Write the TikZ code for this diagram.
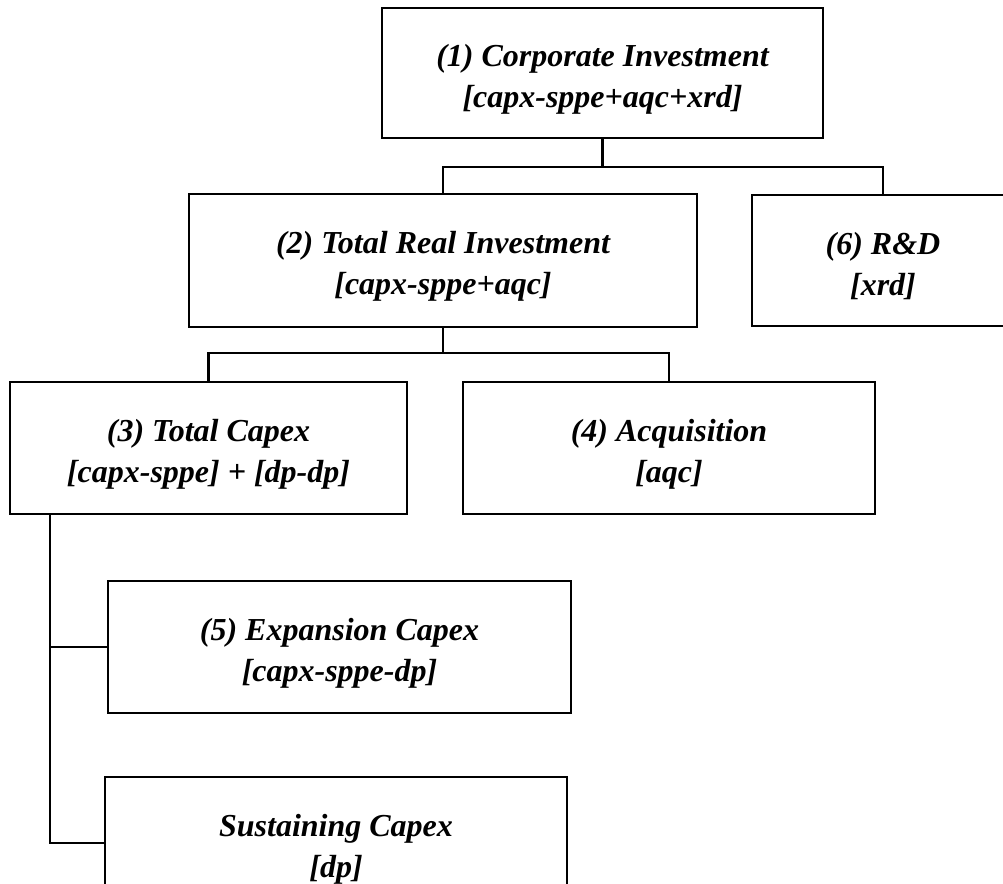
\documentclass[tikz,border=0pt]{standalone}
\usepackage{fontspec}
\setmainfont{Liberation Serif}
\newcommand{\twolines}[2]{\rule{0pt}{34pt}#1\\{}#2}
\begin{document}
\begin{tikzpicture}[x=1pt,y=-1pt,
  box/.style={draw, line width=2.8pt, inner sep=0pt, align=center,
    font=\fontsize{32}{41}\selectfont\bfseries\itshape},
  link/.style={line width=2.7pt, line join=miter}]
\useasboundingbox (0,0) rectangle (1003,883);
\clip (0,0) rectangle (1003,883);
\node[box, minimum width=441, minimum height=130] (b1) at (602.5,73)
  {\twolines{(1) Corporate Investment}{[capx-sppe+aqc+xrd]}};
\node[box, minimum width=508, minimum height=133] (b2) at (443,260.5)
  {\twolines{(2) Total Real Investment}{[capx-sppe+aqc]}};
\node[box, minimum width=262, minimum height=131] (b6) at (883,260.5)
  {\twolines{(6) R\&D}{[xrd]}};
\node[box, minimum width=397, minimum height=132] (b3) at (208.5,448)
  {\twolines{(3) Total Capex}{[capx-sppe] + [dp-dp]}};
\node[box, minimum width=412, minimum height=132] (b4) at (669,448)
  {\twolines{(4) Acquisition}{[aqc]}};
\node[box, minimum width=463, minimum height=132] (b5) at (339.5,647)
  {\twolines{(5) Expansion Capex}{[capx-sppe-dp]}};
\node[box, minimum width=462, minimum height=132] (b7) at (336,843)
  {\twolines{Sustaining Capex}{[dp]}};
\coordinate (j1) at (602.5,167);
\coordinate (j2) at (443,353);
\coordinate (j3) at (50,843);
\draw[link] (b1.south) -- (j1);
\draw[link] (b2.north) |- (j1) -| (b6.north);
\draw[link] (b2.south) -- (j2);
\draw[link] (b3.north) |- (j2) -| (b4.north);
\draw[link] (b3.south -| j3) |- (b7.west);
\draw[link] (j3 |- b5.west) -- (b5.west);
\end{tikzpicture}
\end{document}
